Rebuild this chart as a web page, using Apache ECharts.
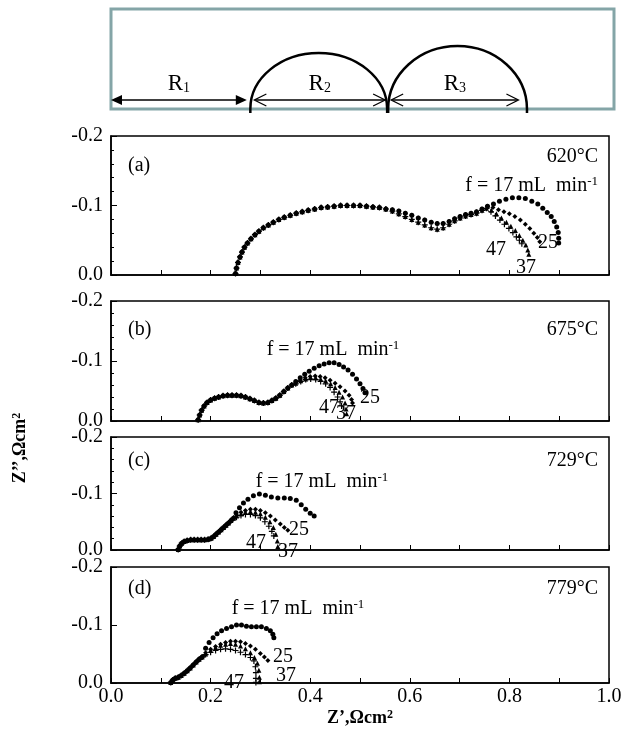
<!DOCTYPE html>
<html><head><meta charset="utf-8">
<script src="https://cdn.jsdelivr.net/npm/echarts@6/dist/echarts.min.js"></script>
<style>html,body{margin:0;padding:0;background:#fff;}#c{width:633px;height:731px;}</style>
</head><body><div id="c"></div>
<script>
// ---------- DATA ----------
// Schematic: arc spans (fraction of box width) and heights (fraction of box height)
const schemArcFrom = [0.277, 0.551];
const schemArcTo = [0.549, 0.827];
const schemArcHeight = [0.56, 0.63];
const schemArrowFrom = [0.0, 0.285, 0.557];
const schemArrowTo = [0.27, 0.545, 0.81];
const schemArrowOpen = [0, 1, 1];
const schemLabels = ['1', '2', '3'];

const flowRates = ['17', '25', '37', '47'];
const panelTags = ['(a)', '(b)', '(c)', '(d)'];
const panelTemps = ['620°C', '675°C', '729°C', '779°C'];
const xTicks = [0.0, 0.2, 0.4, 0.6, 0.8, 1.0];
const yTicks = [-0.2, -0.1, 0.0];

// Panel (a) 620 °C
const aCommon = [[0.250,-0.002],[0.252,-0.010],[0.255,-0.018],[0.259,-0.026],[0.263,-0.033],[0.268,-0.040],[0.274,-0.046],[0.281,-0.052],[0.289,-0.058],[0.297,-0.063],[0.306,-0.068],[0.316,-0.072],[0.326,-0.076],[0.337,-0.080],[0.348,-0.083],[0.360,-0.086],[0.372,-0.089],[0.384,-0.091],[0.396,-0.093],[0.409,-0.095],[0.422,-0.097],[0.435,-0.098],[0.448,-0.099],[0.461,-0.100],[0.474,-0.100],[0.487,-0.100],[0.500,-0.100],[0.513,-0.099],[0.526,-0.098],[0.539,-0.097],[0.552,-0.095]];
const aUpper = [[0.565,-0.094],[0.578,-0.092],[0.591,-0.089],[0.604,-0.086],[0.617,-0.082],[0.630,-0.079],[0.643,-0.076],[0.655,-0.074],[0.667,-0.074],[0.679,-0.077],[0.690,-0.081],[0.701,-0.084],[0.712,-0.087],[0.723,-0.089],[0.734,-0.091],[0.745,-0.095],[0.756,-0.099]];
const aLower = [[0.565,-0.092],[0.578,-0.088],[0.591,-0.084],[0.604,-0.080],[0.617,-0.076],[0.630,-0.072],[0.643,-0.068],[0.655,-0.066],[0.667,-0.068],[0.679,-0.073],[0.690,-0.078],[0.701,-0.082],[0.712,-0.085],[0.723,-0.087],[0.734,-0.089],[0.745,-0.093],[0.754,-0.096]];
const aTail17 = [[0.768,-0.102],[0.780,-0.106],[0.793,-0.109],[0.806,-0.111],[0.819,-0.111],[0.832,-0.110],[0.845,-0.106],[0.857,-0.102],[0.867,-0.096],[0.876,-0.090],[0.884,-0.084],[0.890,-0.077],[0.895,-0.069],[0.898,-0.061],[0.899,-0.053],[0.899,-0.046]];
const aTail25 = [[0.767,-0.097],[0.778,-0.094],[0.789,-0.091],[0.800,-0.088],[0.811,-0.084],[0.822,-0.079],[0.832,-0.073],[0.841,-0.067],[0.849,-0.060],[0.856,-0.054],[0.861,-0.048]];
const aTail37 = [[0.764,-0.093],[0.774,-0.088],[0.784,-0.082],[0.794,-0.076],[0.803,-0.070],[0.812,-0.064],[0.820,-0.057],[0.827,-0.050],[0.833,-0.043],[0.837,-0.036],[0.839,-0.030]];
const aTail47 = [[0.763,-0.091],[0.772,-0.085],[0.781,-0.079],[0.790,-0.073],[0.799,-0.067],[0.807,-0.061],[0.814,-0.055],[0.820,-0.050],[0.825,-0.045]];

// Panel (b) 675 °C
const bCommon = [[0.175,-0.002],[0.178,-0.010],[0.182,-0.018],[0.187,-0.025],[0.193,-0.031],[0.200,-0.035],[0.208,-0.038],[0.216,-0.040],[0.225,-0.042],[0.234,-0.043],[0.243,-0.043],[0.252,-0.043],[0.261,-0.042],[0.270,-0.040],[0.279,-0.037],[0.288,-0.034],[0.297,-0.031],[0.306,-0.030],[0.315,-0.031],[0.323,-0.034],[0.331,-0.038],[0.339,-0.043],[0.347,-0.049],[0.355,-0.055],[0.363,-0.060]];
const bTail17 = [[0.371,-0.066],[0.380,-0.072],[0.389,-0.078],[0.398,-0.083],[0.408,-0.088],[0.418,-0.092],[0.428,-0.095],[0.438,-0.097],[0.448,-0.097],[0.458,-0.094],[0.467,-0.090],[0.476,-0.085],[0.485,-0.078],[0.493,-0.070],[0.500,-0.062],[0.506,-0.054],[0.510,-0.047]];
const bTail25 = [[0.371,-0.064],[0.380,-0.068],[0.390,-0.072],[0.400,-0.074],[0.410,-0.075],[0.420,-0.074],[0.430,-0.072],[0.440,-0.068],[0.450,-0.063],[0.460,-0.057],[0.470,-0.050],[0.478,-0.043],[0.483,-0.036],[0.485,-0.030]];
const bTail37 = [[0.371,-0.063],[0.381,-0.067],[0.391,-0.070],[0.401,-0.072],[0.411,-0.072],[0.421,-0.070],[0.431,-0.067],[0.441,-0.062],[0.450,-0.056],[0.458,-0.048],[0.465,-0.040],[0.470,-0.030],[0.472,-0.020],[0.473,-0.012]];
const bTail47 = [[0.371,-0.062],[0.381,-0.066],[0.391,-0.069],[0.401,-0.070],[0.411,-0.069],[0.421,-0.066],[0.431,-0.062],[0.440,-0.056],[0.448,-0.048],[0.455,-0.040],[0.460,-0.032],[0.463,-0.025]];

// Panel (c) 729 °C
const cCommon = [[0.135,-0.001],[0.138,-0.007],[0.142,-0.012],[0.147,-0.015],[0.153,-0.017],[0.160,-0.018],[0.167,-0.018],[0.174,-0.018],[0.181,-0.018],[0.188,-0.018],[0.195,-0.019],[0.201,-0.021],[0.206,-0.024],[0.211,-0.028],[0.216,-0.032],[0.221,-0.036],[0.226,-0.040],[0.231,-0.044],[0.236,-0.048],[0.241,-0.052],[0.246,-0.056]];
const cTail17 = [[0.251,-0.066],[0.258,-0.075],[0.266,-0.083],[0.275,-0.090],[0.286,-0.096],[0.298,-0.099],[0.310,-0.097],[0.322,-0.094],[0.335,-0.092],[0.348,-0.092],[0.360,-0.091],[0.372,-0.088],[0.382,-0.080],[0.391,-0.072],[0.400,-0.065],[0.408,-0.060]];
const cTail25 = [[0.252,-0.062],[0.261,-0.067],[0.270,-0.070],[0.280,-0.072],[0.290,-0.072],[0.300,-0.070],[0.310,-0.066],[0.320,-0.060],[0.330,-0.053],[0.340,-0.046],[0.348,-0.040],[0.355,-0.035]];
const cTail37 = [[0.252,-0.060],[0.261,-0.064],[0.270,-0.067],[0.280,-0.068],[0.290,-0.067],[0.300,-0.064],[0.310,-0.058],[0.319,-0.050],[0.326,-0.040],[0.331,-0.028],[0.334,-0.016],[0.335,-0.006]];
const cTail47 = [[0.252,-0.058],[0.261,-0.061],[0.270,-0.063],[0.280,-0.063],[0.290,-0.061],[0.300,-0.057],[0.309,-0.050],[0.317,-0.042],[0.323,-0.033],[0.327,-0.025]];

// Panel (d) 779 °C
const dCommon = [[0.120,-0.001],[0.124,-0.005],[0.129,-0.008],[0.135,-0.010],[0.141,-0.013],[0.147,-0.017],[0.153,-0.021],[0.159,-0.026],[0.165,-0.031],[0.171,-0.036],[0.177,-0.041],[0.183,-0.045]];
const dTail17 = [[0.190,-0.060],[0.197,-0.070],[0.205,-0.078],[0.213,-0.085],[0.222,-0.090],[0.232,-0.094],[0.242,-0.097],[0.252,-0.100],[0.262,-0.100],[0.272,-0.098],[0.282,-0.097],[0.292,-0.097],[0.302,-0.097],[0.312,-0.094],[0.320,-0.090],[0.325,-0.084],[0.327,-0.078]];
const dTail25 = [[0.190,-0.052],[0.200,-0.058],[0.210,-0.063],[0.220,-0.067],[0.230,-0.070],[0.240,-0.072],[0.250,-0.072],[0.260,-0.071],[0.270,-0.068],[0.280,-0.064],[0.290,-0.058],[0.300,-0.051],[0.308,-0.045],[0.315,-0.039]];
const dTail37 = [[0.190,-0.050],[0.200,-0.056],[0.210,-0.061],[0.220,-0.065],[0.230,-0.067],[0.240,-0.068],[0.250,-0.067],[0.260,-0.064],[0.270,-0.059],[0.280,-0.052],[0.288,-0.044],[0.294,-0.034],[0.297,-0.022],[0.298,-0.010],[0.298,-0.002]];
const dTail47 = [[0.190,-0.049],[0.200,-0.053],[0.210,-0.056],[0.220,-0.058],[0.230,-0.059],[0.240,-0.058],[0.250,-0.056],[0.260,-0.053],[0.270,-0.049],[0.280,-0.044],[0.287,-0.038],[0.290,-0.028],[0.291,-0.018],[0.291,-0.008],[0.291,-0.001]];

const panelSeries = [
  [aCommon.concat(aUpper, aTail17), aCommon.concat(aUpper, aTail25), aCommon.concat(aLower, aTail37), aCommon.concat(aLower, aTail47)],
  [bCommon.concat(bTail17), bCommon.concat(bTail25), bCommon.concat(bTail37), bCommon.concat(bTail47)],
  [cCommon.concat(cTail17), cCommon.concat(cTail25), cCommon.concat(cTail37), cCommon.concat(cTail47)],
  [dCommon.concat(dTail17), dCommon.concat(dTail25), dCommon.concat(dTail37), dCommon.concat(dTail47)]
];

// ---------- LAYOUT / STYLE ----------
const FONT = 'Liberation Serif';
const grids = [
  {left: 111, top: 9, width: 503, height: 100},
  {left: 111, top: 136, width: 498, height: 139},
  {left: 111, top: 301, width: 498, height: 120},
  {left: 111, top: 437, width: 498, height: 113},
  {left: 111, top: 567, width: 498, height: 116}
];
const symbols = ['circle', 'diamond', 'triangle', 'path://M4,0L6,0L6,4L10,4L10,6L6,6L6,10L4,10L4,6L0,6L0,4L4,4Z'];
const symbolSizes = [5, 5, 5, 6];

const chart = echarts.init(document.getElementById('c'), null, {renderer: 'canvas'});

const gridOpts = grids.map((g, i) => Object.assign({}, g, {
  show: true,
  borderColor: i === 0 ? '#84a5a7' : '#000',
  borderWidth: i === 0 ? 3 : 1.5,
  backgroundColor: 'transparent'
}));

const xAxes = [{gridIndex: 0, type: 'value', min: 0, max: 1, show: false}];
const yAxes = [{gridIndex: 0, type: 'value', min: 0, max: 1, show: false}];
for (let p = 0; p < 4; p++) {
  xAxes.push({
    gridIndex: p + 1, type: 'value', min: 0, max: 1, interval: 0.1,
    axisLine: {show: true, onZero: false, lineStyle: {color: '#000', width: 1.5}},
    axisTick: {show: true, inside: true, length: 5, lineStyle: {color: '#000'}},
    splitLine: {show: false},
    axisLabel: {
      show: p === 3, margin: 4, color: '#000', fontFamily: FONT, fontSize: 20,
      formatter: v => {
        const m = xTicks.find(t => Math.abs(t - v) < 1e-6);
        return m === undefined ? '' : m.toFixed(1);
      }
    }
  });
  yAxes.push({
    gridIndex: p + 1, type: 'value', min: -0.2, max: 0, interval: 0.1, inverse: true,
    axisLine: {show: true, onZero: false, lineStyle: {color: '#000', width: 1.5}},
    axisTick: {show: true, inside: true, length: 6, lineStyle: {color: '#000'}},
    minorTick: {show: p !== 3, splitNumber: 5, length: 3, lineStyle: {color: '#000'}},
    splitLine: {show: false},
    axisLabel: {
      show: true, margin: 8, color: '#000', fontFamily: FONT, fontSize: 20,
      formatter: v => {
        const m = yTicks.find(t => Math.abs(t - v) < 1e-6);
        return m === undefined ? '' : (m === 0 ? '0.0' : m.toFixed(1));
      }
    }
  });
}

const series = [];
// schematic arcs
series.push({
  type: 'custom', xAxisIndex: 0, yAxisIndex: 0, silent: true,
  data: schemArcFrom.map((f, i) => [f, schemArcTo[i], schemArcHeight[i]]),
  renderItem: (params, api) => {
    const p0 = api.coord([api.value(0), 0]);
    const p1 = api.coord([api.value(1), 0]);
    const pt = api.coord([0, api.value(2)]);
    const rx = (p1[0] - p0[0]) / 2, ry = p0[1] - pt[1];
    const cx = (p0[0] + p1[0]) / 2, k = 0.5523;
    const y0 = p0[1], yt = y0 - ry;
    const d = `M${p0[0]} ${y0 + 4} L${p0[0]} ${y0} C${p0[0]} ${y0 - k * ry} ${cx - k * rx} ${yt} ${cx} ${yt} C${cx + k * rx} ${yt} ${p1[0]} ${y0 - k * ry} ${p1[0]} ${y0} L${p1[0]} ${y0 + 4}`;
    return {type: 'path', shape: {pathData: d}, style: {fill: null, stroke: '#000', lineWidth: 2.5}};
  }
});
// schematic arrows
series.push({
  type: 'custom', xAxisIndex: 0, yAxisIndex: 0, silent: true,
  data: schemArrowFrom.map((f, i) => [f, schemArrowTo[i], schemArrowOpen[i]]),
  renderItem: (params, api) => {
    const y = 0.09;
    const p0 = api.coord([api.value(0), y]);
    const p1 = api.coord([api.value(1), y]);
    const open = api.value(2) === 1;
    const L = open ? 12 : 11, H = open ? 6 : 5;
    const children = [{type: 'line', shape: {x1: p0[0] + (open ? 1 : 8), y1: p0[1], x2: p1[0] - (open ? 1 : 8), y2: p1[1]}, style: {stroke: '#000', lineWidth: 1.5}}];
    if (open) {
      children.push({type: 'polyline', shape: {points: [[p0[0] + L, p0[1] - H], [p0[0], p0[1]], [p0[0] + L, p0[1] + H]]}, style: {stroke: '#000', fill: null, lineWidth: 1.3}});
      children.push({type: 'polyline', shape: {points: [[p1[0] - L, p1[1] - H], [p1[0], p1[1]], [p1[0] - L, p1[1] + H]]}, style: {stroke: '#000', fill: null, lineWidth: 1.3}});
    } else {
      children.push({type: 'polygon', shape: {points: [[p0[0] + L, p0[1] - H], [p0[0], p0[1]], [p0[0] + L, p0[1] + H]]}, style: {fill: '#000'}});
      children.push({type: 'polygon', shape: {points: [[p1[0] - L, p1[1] - H], [p1[0], p1[1]], [p1[0] - L, p1[1] + H]]}, style: {fill: '#000'}});
    }
    return {type: 'group', children};
  }
});
// schematic labels R1,R2,R3 as scatter labels positioned over arrow centres
series.push({
  type: 'scatter', xAxisIndex: 0, yAxisIndex: 0, silent: true, symbolSize: 0,
  itemStyle: {opacity: 1},
  data: schemArrowFrom.map((f, i) => ({value: [(f + schemArrowTo[i]) / 2, 0.27], name: schemLabels[i]})),
  label: {
    show: true, position: 'inside', color: '#000', textBorderWidth: 0, opacity: 1,
    formatter: p => '{r|R}{s|' + p.name + '}',
    rich: {r: {color: '#000', fontFamily: FONT, fontSize: 23, lineHeight: 26, verticalAlign: 'bottom'}, s: {color: '#000', fontFamily: FONT, fontSize: 14, lineHeight: 14, verticalAlign: 'bottom'}}
  }
});

for (let p = 0; p < 4; p++) {
  for (let s = 0; s < 4; s++) {
    series.push({
      type: 'scatter', name: flowRates[s], xAxisIndex: p + 1, yAxisIndex: p + 1,
      data: panelSeries[p][s], symbol: symbols[s], symbolSize: symbolSizes[s],
      itemStyle: {color: '#000', opacity: 1}, silent: true
    });
  }
}

// annotation texts
const txt = (x, y, text, opts) => Object.assign({type: 'text', x, y, style: Object.assign({text, fill: '#000', font: '20px "' + FONT + '"'}, opts || {})});
const fText = 'f = 17 mL  min{s|-1}';
const fRich = {s: {fontSize: 13, lineHeight: 13, verticalAlign: 'top', fontFamily: FONT, fill: '#000'}};
const fStyle = (align) => ({rich: fRich, align: align, verticalAlign: 'middle', fontFamily: FONT, fontSize: 20, lineHeight: 22});
const textLayout = [
  {tag: [128, 166], temp: [598, 157], f: [598, 186, 'right'], n25: [538, 243], n47: [486, 250], n37: [516, 268]},
  {tag: [128, 330], temp: [598, 330], f: [333, 350, 'center'], n25: [360, 398], n47: [319, 408], n37: [336, 414]},
  {tag: [128, 461], temp: [598, 461], f: [322, 482, 'center'], n25: [289, 530], n47: [246, 543], n37: [278, 552]},
  {tag: [128, 589], temp: [598, 589], f: [298, 609, 'center'], n25: [273, 657], n47: [224, 683], n37: [276, 676]}
];
const graphic = [];
textLayout.forEach((L, p) => {
  graphic.push(txt(L.tag[0], L.tag[1], panelTags[p], {verticalAlign: 'middle'}));
  graphic.push(txt(L.temp[0], L.temp[1], panelTemps[p], {align: 'right', verticalAlign: 'middle'}));
  graphic.push({type: 'text', x: L.f[0], y: L.f[1], style: Object.assign({text: fText, fill: '#000'}, fStyle(L.f[2]))});
  graphic.push(txt(L.n25[0], L.n25[1], flowRates[1], {verticalAlign: 'middle'}));
  graphic.push(txt(L.n47[0], L.n47[1], flowRates[3], {verticalAlign: 'middle'}));
  graphic.push(txt(L.n37[0], L.n37[1], flowRates[2], {verticalAlign: 'middle'}));
});
// axis titles
graphic.push({type: 'text', x: 360, y: 718, style: {text: 'Z’,Ωcm{s|2}', fill: '#000', align: 'center', verticalAlign: 'middle', fontFamily: FONT, fontSize: 18, fontWeight: 'bold', rich: {s: {fontSize: 12, lineHeight: 12, verticalAlign: 'top', fontFamily: FONT, fontWeight: 'bold'}}}});
graphic.push({type: 'text', x: 20, y: 448, rotation: Math.PI / 2, style: {text: 'Z’’,Ωcm{s|2}', fill: '#000', align: 'center', verticalAlign: 'middle', fontFamily: FONT, fontSize: 18, fontWeight: 'bold', rich: {s: {fontSize: 12, lineHeight: 12, verticalAlign: 'top', fontFamily: FONT, fontWeight: 'bold'}}}});

chart.setOption({
  animation: false,
  backgroundColor: '#fff',
  grid: gridOpts,
  xAxis: xAxes,
  yAxis: yAxes,
  series: series,
  graphic: graphic
});
</script></body></html>
